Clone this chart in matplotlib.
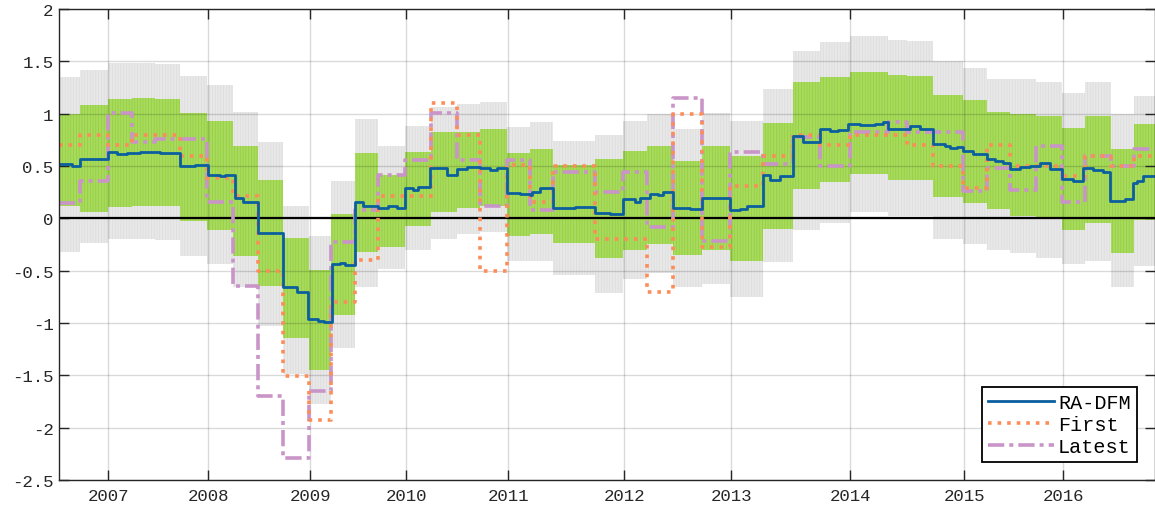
"""
Nowcast bands chart: RA-DFM vs first / latest releases.
"""

import matplotlib
matplotlib.use("Agg")
import matplotlib.pyplot as plt
import numpy as np

# x is the observation number (one per nowcast update)
X_END = 1096

# RA-DFM nowcast (step changes)
dfm_x = [0, 13, 21, 36, 49, 58, 68, 81, 101, 121, 136, 149, 161, 166, 176, 184,
         199, 224, 238, 249, 259, 265, 273, 281, 286, 296, 304, 319, 329, 338,
         346, 354, 359, 371, 388, 398, 408, 421, 431, 438, 448, 461, 471, 473,
         481, 494, 516, 536, 551, 564, 576, 581, 591, 599, 604, 614, 631, 643,
         671, 681, 688, 704, 711, 721, 734, 744, 761, 771, 779, 789, 801, 816,
         824, 829, 851, 861, 874, 886, 891, 898, 904, 914, 928, 936, 944, 951,
         961, 971, 981, 991, 1003, 1014, 1024, 1034, 1044, 1051, 1066, 1074,
         1078, 1084]
dfm_y = [0.52, 0.50, 0.565, 0.57, 0.63, 0.61, 0.625, 0.63, 0.62, 0.50, 0.505,
         0.41, 0.40, 0.41, 0.19, 0.16, -0.14, -0.66, -0.70, -0.96, -0.98,
         -0.99, -0.44, -0.43, -0.45, 0.16, 0.12, 0.10, 0.12, 0.10, 0.29, 0.27,
         0.30, 0.48, 0.41, 0.47, 0.49, 0.48, 0.46, 0.48, 0.24, 0.23, 0.22,
         0.25, 0.29, 0.10, 0.11, 0.05, 0.04, 0.18, 0.16, 0.19, 0.23, 0.22,
         0.25, 0.10, 0.09, 0.19, 0.08, 0.09, 0.12, 0.41, 0.37, 0.40, 0.79,
         0.73, 0.85, 0.83, 0.84, 0.90, 0.89, 0.90, 0.92, 0.85, 0.88, 0.85,
         0.71, 0.69, 0.67, 0.68, 0.64, 0.61, 0.565, 0.55, 0.53, 0.47, 0.49,
         0.50, 0.53, 0.47, 0.38, 0.36, 0.48, 0.46, 0.44, 0.17, 0.18, 0.335,
         0.36, 0.40]

# quarterly release dates
rel_x = [0, 21, 49, 73, 96, 121, 148, 174, 199, 224, 250, 272, 296, 319, 346,
         372, 398, 421, 448, 471, 494, 536, 564, 588, 614, 643, 671, 704, 734,
         761, 791, 829, 848, 874, 904, 928, 951, 977, 1003, 1026, 1052, 1075]

first = [0.70, 0.80, 0.70, 0.80, 0.80, 0.60, 0.39, 0.21, -0.50, -1.51, -1.93,
         -0.80, -0.40, 0.21, 0.21, 1.10, 0.80, -0.50, 0.51, 0.16, 0.50, -0.20,
         -0.20, -0.70, 1.00, -0.27, 0.31, 0.60, 0.80, 0.70, 0.80, 0.80, 0.70,
         0.50, 0.29, 0.70, 0.50, 0.50, 0.40, 0.60, 0.50, 0.60]
latest = [0.15, 0.36, 1.01, 0.73, 0.76, 0.76, 0.16, -0.65, -1.70, -2.29, -1.65,
          -0.23, 0.08, 0.41, 0.56, 1.01, 0.56, 0.12, 0.56, 0.08, 0.44, 0.25,
          0.44, -0.08, 1.15, -0.22, 0.63, 0.52, 0.78, 0.50, 0.82, 0.92, 0.82,
          0.82, 0.26, 0.48, 0.27, 0.69, 0.16, 0.60, 0.50, 0.66]

# density bands per release
outer_hi = [1.35, 1.42, 1.48, 1.48, 1.47, 1.36, 1.27, 1.02, 0.73, 0.12, -0.17,
            0.36, 0.95, 0.69, 0.88, 1.06, 1.09, 1.11, 0.87, 0.92, 0.74, 0.80,
            0.93, 1.00, 0.85, 1.01, 0.93, 1.24, 1.60, 1.68, 1.74, 1.70, 1.69,
            1.50, 1.44, 1.33, 1.33, 1.30, 1.20, 1.30, 1.00, 1.17]
inner_hi = [1.00, 1.08, 1.14, 1.15, 1.14, 1.01, 0.93, 0.69, 0.37, -0.19, -0.49,
            0.04, 0.62, 0.41, 0.63, 0.82, 0.82, 0.85, 0.62, 0.66, 0.51, 0.565,
            0.64, 0.69, 0.55, 0.69, 0.60, 0.91, 1.30, 1.35, 1.40, 1.37, 1.36,
            1.18, 1.13, 1.02, 1.00, 0.98, 0.86, 0.98, 0.66, 0.90]
inner_lo = [0.12, 0.06, 0.11, 0.12, 0.12, -0.03, -0.11, -0.36, -0.65, -1.14,
            -1.45, -0.92, -0.32, -0.27, -0.07, 0.06, 0.10, 0.12, -0.17, -0.15,
            -0.24, -0.38, -0.30, -0.25, -0.35, -0.30, -0.41, -0.10, 0.28, 0.35,
            0.42, 0.37, 0.37, 0.20, 0.15, 0.09, 0.02, 0.00, -0.11, -0.04,
            -0.33, -0.02]
outer_lo = [-0.32, -0.24, -0.20, -0.20, -0.21, -0.36, -0.44, -0.66, -1.03,
            -1.49, -1.77, -1.24, -0.66, -0.48, -0.30, -0.20, -0.15, -0.13,
            -0.41, -0.41, -0.54, -0.71, -0.58, -0.52, -0.66, -0.63, -0.75,
            -0.42, -0.11, -0.04, 0.06, 0.02, 0.02, -0.20, -0.25, -0.30, -0.33,
            -0.38, -0.44, -0.41, -0.66, -0.46]

year_ticks = [49, 149, 251, 347, 449, 565, 672, 791, 905, 1004]
year_labels = ["2007", "2008", "2009", "2010", "2011", "2012", "2013", "2014",
               "2015", "2016"]
y_ticks = [-2.5, -2, -1.5, -1, -0.5, 0, 0.5, 1, 1.5, 2]
y_labels = ["-2.5", "-2", "-1.5", "-1", "-0.5", "0", "0.5", "1", "1.5", "2"]


def extend(xs, ys):
    # add the right end so the last step is drawn to the edge
    return np.append(xs, X_END), np.append(ys, ys[-1])


plt.rcParams["font.family"] = ["Liberation Mono", "DejaVu Sans Mono"]
plt.rcParams["axes.unicode_minus"] = False
plt.rcParams["hatch.linewidth"] = 0.5

fig = plt.figure(figsize=(11.55, 5.10), dpi=100)
ax = fig.add_axes([0.0511, 0.0569, 0.9489, 0.9235])

rx, o_hi = extend(rel_x, outer_hi)
_, o_lo = extend(rel_x, outer_lo)
_, i_hi = extend(rel_x, inner_hi)
_, i_lo = extend(rel_x, inner_lo)

ax.fill_between(rx, o_lo, o_hi, step="post", facecolor="#e8e8e8",
                edgecolor="#dcdcdc", hatch="||||||", linewidth=0, zorder=1)
ax.fill_between(rx, i_lo, i_hi, step="post", facecolor="#a8da62",
                edgecolor="#92cf33", hatch="||||||", linewidth=0, zorder=1.1)

ax.axhline(0, color="black", linewidth=1.6, zorder=2.6)

dx, dy = extend(dfm_x, dfm_y)
_, fy = extend(rel_x, first)
_, ly = extend(rel_x, latest)

ax.step(dx, dy, where="post", color="#0b5f9e", linewidth=2.0, zorder=5,
        label="RA-DFM")
ax.step(rx, fy, where="post", color="#fc8d59", linewidth=2.6, linestyle=":",
        zorder=4, label="First")
ax.step(rx, ly, where="post", color="#c994c7", linewidth=2.6,
        dashes=(4.5, 1.4, 1.1, 1.4), zorder=3, label="Latest")

ax.set_xlim(0, X_END)
ax.set_ylim(-2.5, 2)
ax.set_xticks(year_ticks)
ax.set_xticklabels(year_labels)
ax.set_yticks(y_ticks)
ax.set_yticklabels(y_labels)

ax.set_axisbelow(False)
ax.grid(True, color="black", alpha=0.15, linewidth=1.0)
ax.tick_params(direction="in", length=7, width=1.0, top=True, right=True,
               labelsize=12.5, colors="#262626", pad=6)
ax.tick_params(axis="y", pad=4)
for s in ax.spines.values():
    s.set_color("#262626")
    s.set_linewidth(1.0)
    s.set_zorder(6)

leg = ax.legend(loc="lower right", fontsize=14.5, frameon=True, fancybox=False,
                framealpha=1, edgecolor="black", handlelength=3.3,
                handletextpad=0.2, labelspacing=0.15, borderaxespad=0.9,
                borderpad=0.3)
leg.get_frame().set_linewidth(1.3)
leg.set_zorder(10)

fig.savefig("out.png", dpi=100)
